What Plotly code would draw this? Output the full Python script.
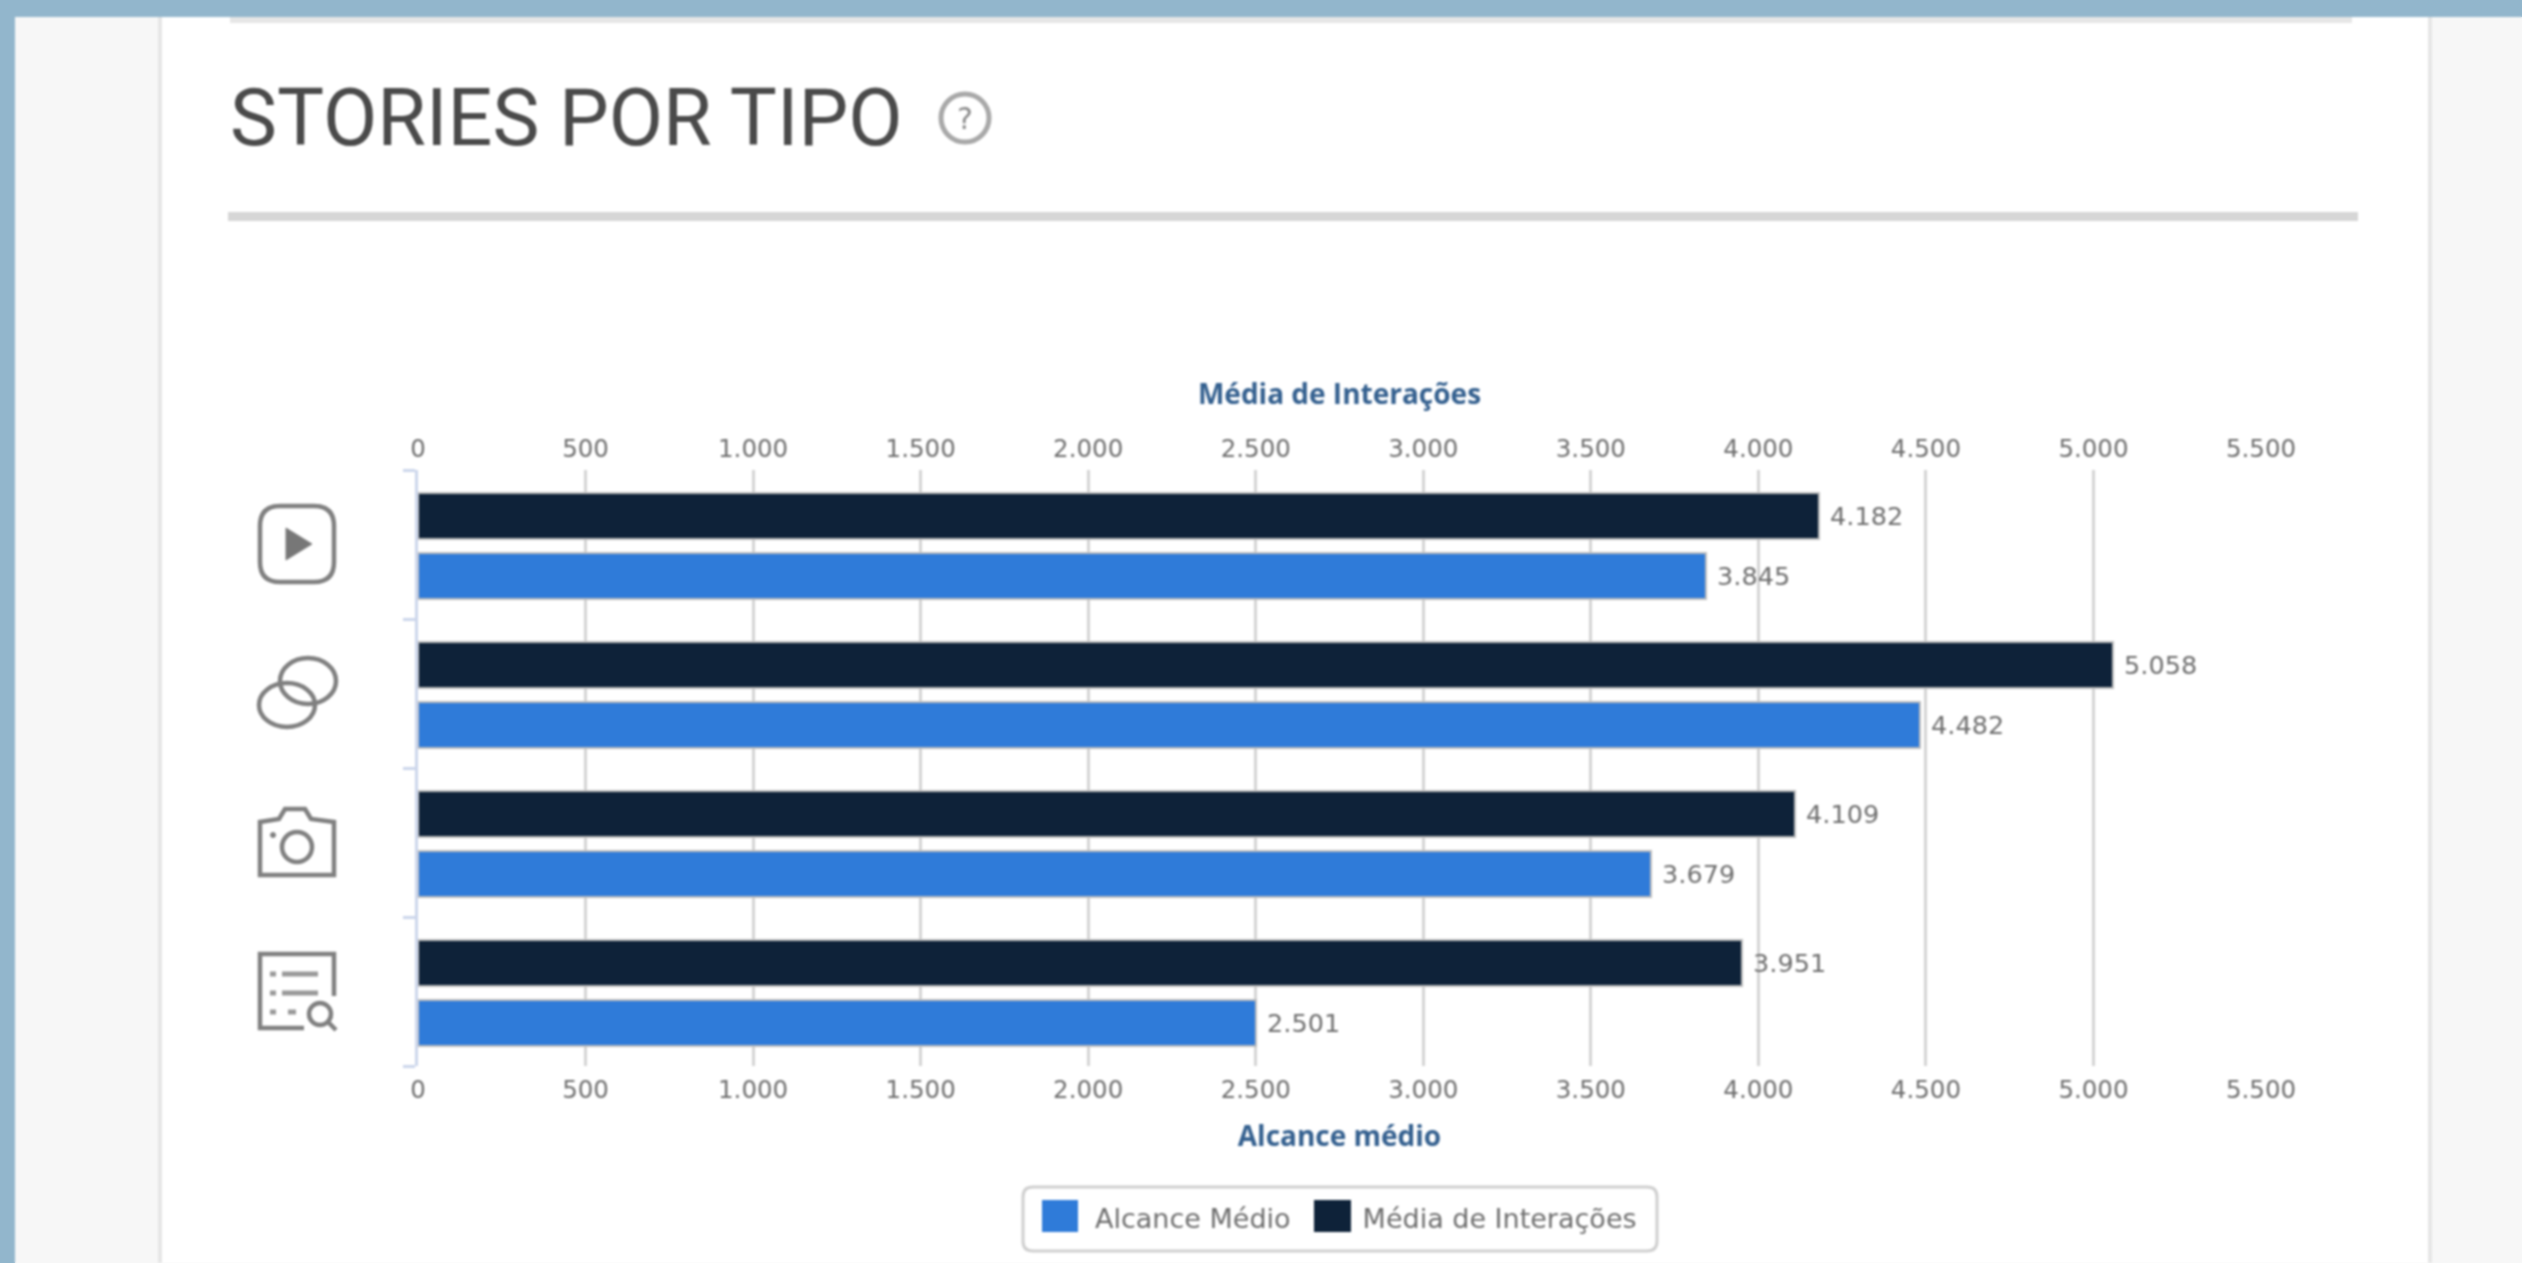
import plotly.graph_objects as go

W, H = 2522, 1263

# Bottom-to-top on the category axis
categories = ["Enquete", "Foto", "Link", "Vídeo"]
alcance_medio = [2501, 3679, 4482, 3845]
media_interacoes = [3951, 4109, 5058, 4182]
series_names = ["Alcance Médio", "Média de Interações"]
axis_titles = ["Alcance médio", "Média de Interações"]
heading = "STORIES POR TIPO"

BLUE, NAVY = "#2F7BD9", "#0E2239"
GRID, AXIS = "#D4D4D4", "#CCD6EB"
TXT, TITLE_BLUE = "#6E6E6E", "#34608F"
FONT = "DejaVu Sans"


def px(x):
    return x / W


def py(y):
    return 1 - y / H


def rect(x0, y0, x1, y1, fill, line=None, lw=0, layer="below"):
    return dict(type="rect", xref="paper", yref="paper", layer=layer,
                x0=px(x0), x1=px(x1), y0=py(y0), y1=py(y1), fillcolor=fill,
                line=dict(color=line or fill, width=lw))


def circle(cx, cy, rx, ry=None, color="#808080", lw=4.5, fill="rgba(0,0,0,0)"):
    ry = ry or rx
    return dict(type="circle", xref="paper", yref="paper", layer="below",
                x0=px(cx - rx), x1=px(cx + rx), y0=py(cy + ry), y1=py(cy - ry),
                fillcolor=fill, line=dict(color=color, width=lw))


def path(pts, closed=False, color="#808080", lw=4.5, fill="rgba(0,0,0,0)"):
    d = "M " + " L ".join(f"{px(x):.5f},{py(y):.5f}" for x, y in pts)
    return dict(type="path", xref="paper", yref="paper", layer="below",
                path=d + (" Z" if closed else ""), fillcolor=fill,
                line=dict(color=color, width=lw))


def round_rect(x0, y0, x1, y1, r, color="#808080", lw=4.5, fill="rgba(0,0,0,0)"):
    a, b = px(x0), px(x1)
    c, d = py(y0), py(y1)
    rx, ry = r / W, r / H
    p = (f"M {a+rx:.5f},{c:.5f} L {b-rx:.5f},{c:.5f} Q {b:.5f},{c:.5f} {b:.5f},{c-ry:.5f} "
         f"L {b:.5f},{d+ry:.5f} Q {b:.5f},{d:.5f} {b-rx:.5f},{d:.5f} "
         f"L {a+rx:.5f},{d:.5f} Q {a:.5f},{d:.5f} {a:.5f},{d+ry:.5f} "
         f"L {a:.5f},{c-ry:.5f} Q {a:.5f},{c:.5f} {a+rx:.5f},{c:.5f} Z")
    return dict(type="path", xref="paper", yref="paper", layer="below", path=p,
                fillcolor=fill, line=dict(color=color, width=lw))


shapes = [
    rect(0, 0, W, H, "#92B6CC"),
    rect(15, 17, W, H, "#F7F7F7"),
    rect(158, 17, 2432, H, "#E6E6E6"),
    rect(162, 17, 2428, H, "#FFFFFF"),
    rect(230, 17, 2352, 23, "#E6E6E6"),
    rect(228, 212, 2358, 221, "#D6D6D6"),
    circle(965, 118, 24, color="#A8A8A8", lw=5),
    # video icon
    round_rect(260, 506, 334, 582, 20),
    path([(286, 528), (286, 560), (312, 544)], closed=True, fill="#777777", lw=1),
    # link icon
    circle(308, 681, 28, 23),
    circle(287, 705, 28, 22),
    # camera icon
    path([(260, 875), (260, 822), (279, 819), (285, 809), (305, 809), (311, 819),
          (334, 822), (334, 875)], closed=True),
    circle(297, 847, 15),
    circle(273, 835, 2.5, fill="#808080", lw=1),
    # list icon
    path([(304, 1028), (260, 1028), (260, 954), (334, 954), (334, 996)]),
    path([(282, 974), (318, 974)], color="#999999", lw=5),
    path([(282, 993), (318, 993)], color="#999999", lw=5),
    path([(270, 974), (276, 974)], color="#999999", lw=5),
    path([(270, 993), (276, 993)], color="#999999", lw=5),
    path([(270, 1012), (276, 1012)], color="#999999", lw=5),
    path([(288, 1012), (296, 1012)], color="#999999", lw=5),
    circle(320, 1014, 11),
    path([(328, 1022), (336, 1030)]),
    # legend frame
    round_rect(1023, 1187, 1657, 1251, 10, color="#CFCFCF", lw=3, fill="#FFFFFF"),
    # enlarged legend swatches
    rect(1042, 1200, 1078, 1232, BLUE, layer="above"),
    rect(1314, 1200, 1351, 1232, NAVY, layer="above"),
]

fig = go.Figure()
fig.add_bar(name=series_names[0], y=categories, x=alcance_medio, orientation="h",
            xaxis="x", yaxis="y", marker=dict(color=BLUE, line=dict(color="#BDBDBD", width=2)),
            width=0.31, offset=-0.365, texttemplate="\u00A0%{x:,}", textposition="outside",
            cliponaxis=False, textfont=dict(color=TXT, size=25.5, family=FONT))
fig.add_bar(name=series_names[1], y=categories, x=media_interacoes, orientation="h",
            xaxis="x2", yaxis="y", marker=dict(color=NAVY, line=dict(color="#BDBDBD", width=2)),
            width=0.31, offset=0.035, texttemplate="\u00A0%{x:,}", textposition="outside",
            cliponaxis=False, textfont=dict(color=TXT, size=25.5, family=FONT))

x_common = dict(range=[0, 5500], tick0=0, dtick=500, tickformat=",",
                ticks="outside", ticklen=2, tickcolor="rgba(0,0,0,0)",
                tickfont=dict(color=TXT, size=24.5, family=FONT), zeroline=False, automargin=False)

fig.update_layout(
    width=W, height=H, autosize=False,
    margin=dict(l=0, r=0, t=0, b=0),
    paper_bgcolor="#FFFFFF", plot_bgcolor="rgba(0,0,0,0)",
    separators=",.", showlegend=True, bargap=0,
    font=dict(family=FONT, color=TXT),
    xaxis=dict(domain=[px(418), px(2261)], side="bottom", anchor="y",
               showgrid=True, gridcolor=GRID, gridwidth=3,
               title=dict(text=axis_titles[0], standoff=22,
                          font=dict(color=TITLE_BLUE, size=28, family="Open Sans", weight="bold")),
               **x_common),
    xaxis2=dict(overlaying="x", side="top", anchor="y", showgrid=False,
                title=dict(text=axis_titles[1], standoff=21,
                           font=dict(color=TITLE_BLUE, size=28, family="Open Sans", weight="bold")),
                **x_common),
    yaxis=dict(domain=[py(1066), py(470)], type="category", categoryorder="array",
               categoryarray=categories, showticklabels=False, showgrid=False, zeroline=False,
               tickson="boundaries", ticks="outside", ticklen=12, tickwidth=3, tickcolor=AXIS,
               showline=True, linecolor=AXIS, linewidth=3),
    legend=dict(orientation="h", xanchor="left", x=px(1028), yanchor="middle", y=py(1218),
                bgcolor="rgba(0,0,0,0)", borderwidth=0, traceorder="normal",
                font=dict(color=TXT, size=27, family=FONT), itemwidth=57),
    shapes=shapes,
    annotations=[
        dict(text=heading, xref="paper", yref="paper", x=px(228), y=py(118), xanchor="left",
             yanchor="middle", showarrow=False,
             font=dict(family="Roboto", size=79, color="#4A4A4A", weight=400)),
        dict(text="?", xref="paper", yref="paper", x=px(965), y=py(118), xanchor="center",
             yanchor="middle", showarrow=False,
             font=dict(family=FONT, size=30, color="#8A8A8A")),
    ],
)

post = (
    "document.body.style.margin='0';"
    "document.documentElement.style.overflow='hidden';"
    "document.body.style.background='linear-gradient(to right,#92B6CC 15px,transparent 15px),"
    "linear-gradient(#92B6CC 17px,#F7F7F7 17px)';"
    "var s=document.createElement('style');s.textContent='.legendpoints{display:none}';"
    "document.head.appendChild(s);"
    "document.querySelector('.plotly-graph-div').style.filter='blur(1px)';"
)
fig.write_html("out.html", config=dict(displayModeBar=False), post_script=post)
